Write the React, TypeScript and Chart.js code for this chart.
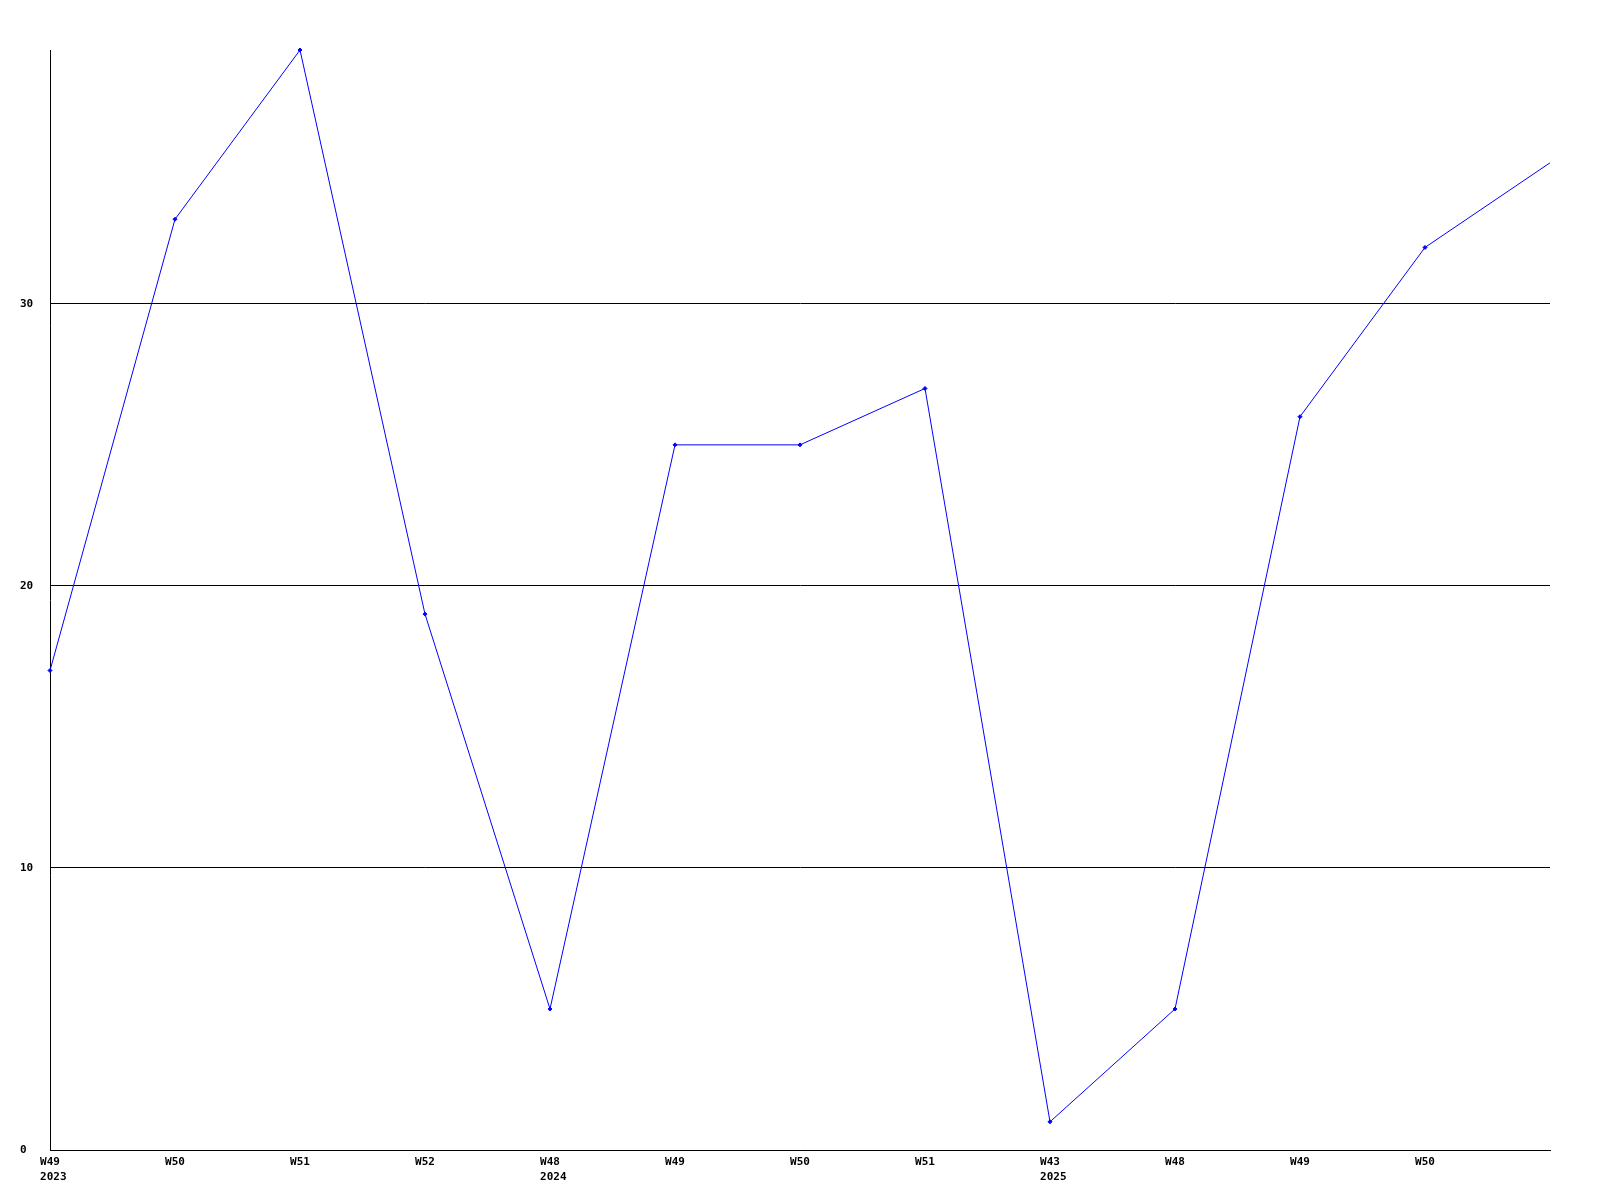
import React, { useEffect, useRef } from "react";
import { Chart, registerables } from "chart.js";

Chart.register(...registerables);

const weeks = ["W49", "W50", "W51", "W52", "W48", "W49", "W50", "W51", "W43", "W48", "W49", "W50", ""];
const years = ["2023", "", "", "", "2024", "", "", "", "2025", "", "", "", ""];
const values = [17, 33, 39, 19, 5, 25, 25, 27, 1, 5, 26, 32, 35];
const yTicks = [0, 10, 20, 30];
const yMax = 39;

export default function App() {
  const ref = useRef<HTMLCanvasElement | null>(null);

  useEffect(() => {
    if (!ref.current) return;
    const labels = weeks.map((w, i) => (years[i] ? [w, " " + years[i]] : w));
    const font = { family: "'DejaVu Sans Mono', monospace", size: 11, weight: "bold" as const, lineHeight: 15 / 11 };
    const chart = new Chart(ref.current, {
      type: "line",
      data: {
        labels,
        datasets: [
          {
            data: values,
            borderColor: "#0000ff",
            backgroundColor: "#0000ff",
            borderWidth: 1,
            pointStyle: "rectRot",
            pointRadius: values.map((_, i) => (i === values.length - 1 ? 0 : 2)),
            pointBorderWidth: 1,
            tension: 0,
            clip: false,
          },
        ],
      },
      options: {
        responsive: false,
        animation: false,
        devicePixelRatio: 1,
        layout: { padding: { left: 20, right: 50, top: 50, bottom: 0 } },
        plugins: { legend: { display: false }, tooltip: { enabled: false } },
        scales: {
          x: {
            type: "category",
            offset: false,
            grid: { display: false, drawTicks: false },
            border: { display: true, color: "#000", width: 1 },
            ticks: {
              autoSkip: false,
              maxRotation: 0,
              minRotation: 0,
              padding: 5,
              color: "#000",
              font,
            },
            afterFit: (s: any) => {
              s.height = 50;
            },
          },
          y: {
            min: 0,
            max: yMax,
            grid: { color: "#000", lineWidth: 1, drawTicks: false },
            border: { display: true, color: "#000", width: 1 },
            ticks: {
              stepSize: 10,
              includeBounds: false,
              crossAlign: "far",
              padding: 17,
              color: "#000",
              font,
              callback: (v: any) => (yTicks.includes(Number(v)) ? String(v) : ""),
            },
            afterFit: (s: any) => {
              s.width = 30;
            },
          },
        },
      },
    });
    return () => chart.destroy();
  }, []);

  return (
    <div style={{ position: "absolute", left: 0, top: 0, width: 1600, height: 1200, background: "#fff" }}>
      <canvas ref={ref} width={1600} height={1200} style={{ width: 1600, height: 1200, display: "block" }} />
    </div>
  );
}
